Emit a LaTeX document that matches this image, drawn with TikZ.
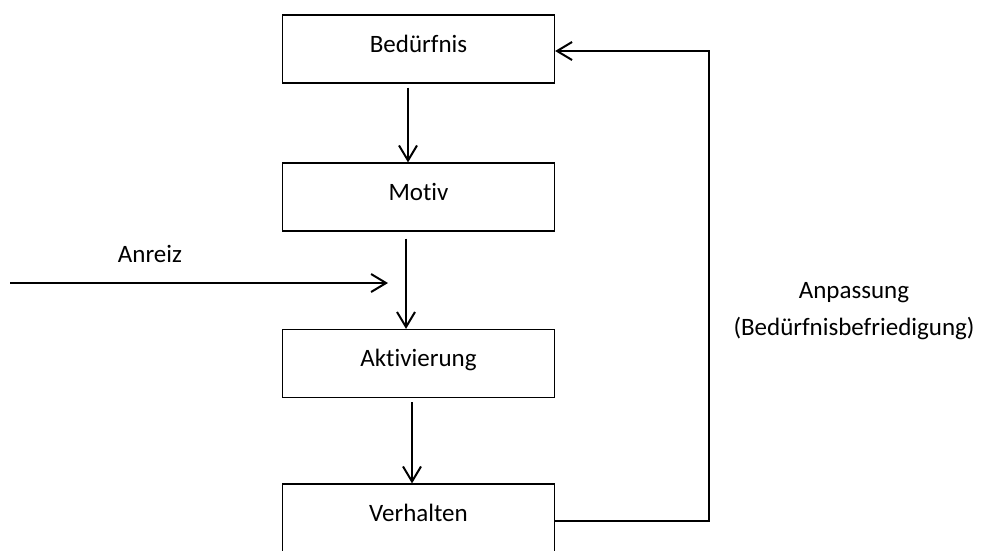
\documentclass[tikz,border=0pt]{standalone}
\usepackage{fontspec}
\setmainfont{Carlito}[Ligatures=NoCommon]
\usetikzlibrary{arrows.meta}
\begin{document}
\begin{tikzpicture}[x=1pt,y=-1pt,
  box/.style={draw,line width=1.2pt,minimum width=272pt,minimum height=68pt,inner sep=0pt,
    text height=18pt,text depth=12pt,font=\fontsize{25}{30}\selectfont},
  lbl/.style={font=\fontsize{25}{37}\selectfont,align=center},
  conn/.style={line width=2pt,-{Straight Barb[length=15pt,width=18pt,line width=2pt]}}]
\useasboundingbox (0,0) rectangle (981,550);
\node[box] (B) at (418.5,49) {Bedürfnis};
\node[box] (M) at (418.5,197) {Motiv};
\node[box] (A) at (418.5,363.5) {Aktivierung};
\node[box] (V) at (418.5,518) {Verhalten};
\draw[conn] ([xshift=-10.5pt,yshift=-4pt]B.south) -- ([xshift=-10.5pt]M.north);
\draw[conn] ([xshift=-12.5pt,yshift=-7pt]M.south) -- ([xshift=-12.5pt]A.north);
\draw[conn] ([xshift=-6.5pt,yshift=-4pt]A.south) -- ([xshift=-6.5pt]V.north);
\coordinate (r0) at (10,283);
\coordinate (r1) at (388,283);
\draw[conn] (r0) -- (r1);
\node[lbl] (anreiz) at (150,254) {Anreiz};
\coordinate (c1) at (709,521);
\coordinate (c2) at (709,51);
\draw[conn] ([yshift=-3pt]V.east) -- (c1) -- (c2) -- ([yshift=-2pt]B.east);
\node[lbl] (anp) at (854,311) {Anpassung\\(Bedürfnisbefriedigung)};
\end{tikzpicture}
\end{document}
